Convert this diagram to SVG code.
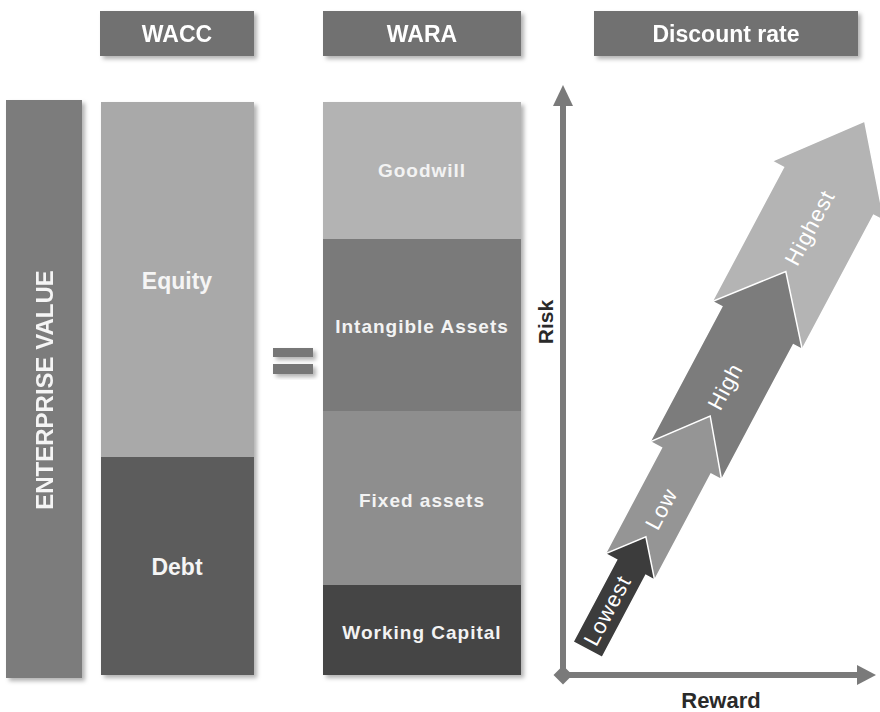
<svg xmlns="http://www.w3.org/2000/svg" width="880" height="712" viewBox="0 0 880 712">
  <defs>
    <filter id="sh" x="-10%" y="-10%" width="130%" height="130%">
      <feDropShadow dx="3" dy="3" stdDeviation="2" flood-color="#000" flood-opacity="0.3"/>
    </filter>
    <style>
      .hdr { fill: #717171; }
      .hdrt { font-family: "Liberation Sans", Arial, sans-serif; font-weight: bold; font-size: 23px; fill: #ffffff; text-anchor: middle; }
      .big { font-family: "Liberation Sans", Arial, sans-serif; font-weight: bold; font-size: 23px; fill: #f5f5f5; text-anchor: middle; }
      .wara { font-family: "Liberation Sans", Arial, sans-serif; font-weight: bold; font-size: 19px; letter-spacing: 1px; fill: #f3f3f3; text-anchor: middle; }
      .arrt { font-family: "Liberation Sans", Arial, sans-serif; font-size: 22px; letter-spacing: 1px; fill: #ffffff; text-anchor: middle; }
      .axl { font-family: "Liberation Sans", Arial, sans-serif; font-weight: bold; font-size: 22px; fill: #2a2a2a; text-anchor: middle; }
      .arr { stroke: #ffffff; stroke-width: 1.5; stroke-linejoin: miter; }
      .axis { stroke: #7a7a7a; stroke-width: 6; fill: none; }
    </style>
  </defs>
  <rect width="880" height="712" fill="#ffffff"/>

  <g id="hdr-wacc" filter="url(#sh)">
    <rect class="hdr" x="100" y="11" width="154" height="45"/>
    <text class="hdrt" x="177" y="42">WACC</text>
  </g>
  <g id="hdr-wara" filter="url(#sh)">
    <rect class="hdr" x="323" y="11" width="198" height="45"/>
    <text class="hdrt" x="422" y="42">WARA</text>
  </g>
  <g id="hdr-discount" filter="url(#sh)">
    <rect class="hdr" x="594" y="11" width="264" height="45"/>
    <text class="hdrt" x="726" y="42">Discount rate</text>
  </g>

  <g id="enterprise-value" filter="url(#sh)">
    <rect x="6" y="100" width="76" height="578" fill="#7b7b7b"/>
    <text class="big" font-size="24" transform="translate(53,390) rotate(-90)" style="font-size:24px">ENTERPRISE VALUE</text>
  </g>

  <g id="wacc-stack" filter="url(#sh)">
    <rect x="101" y="102" width="153" height="355" fill="#a9a9a9"/>
    <rect x="101" y="457" width="153" height="218" fill="#5c5c5c"/>
  </g>
  <g id="equity"><text class="big" x="177" y="289">Equity</text></g>
  <g id="debt"><text class="big" x="177" y="575">Debt</text></g>

  <g id="equals" filter="url(#sh)">
    <rect x="273" y="348" width="40" height="9" fill="#777777"/>
    <rect x="273" y="364" width="40" height="10" fill="#777777"/>
  </g>

  <g id="wara-stack" filter="url(#sh)">
    <rect x="323" y="102" width="198" height="137" fill="#b3b3b3"/>
    <rect x="323" y="239" width="198" height="172" fill="#7a7a7a"/>
    <rect x="323" y="411" width="198" height="174" fill="#8e8e8e"/>
    <rect x="323" y="585" width="198" height="90" fill="#444444"/>
  </g>
  <g id="goodwill"><text class="wara" x="422" y="177">Goodwill</text></g>
  <g id="intangible"><text class="wara" x="422" y="333">Intangible Assets</text></g>
  <g id="fixed"><text class="wara" x="422" y="507">Fixed assets</text></g>
  <g id="working"><text class="wara" x="422" y="639">Working Capital</text></g>

  <g id="connectors">
    <line class="axis" x1="563" y1="675" x2="563" y2="104"/>
    <polygon points="563,85 573,106 553,106" fill="#7a7a7a"/>
    <line class="axis" x1="563" y1="675" x2="858" y2="675"/>
    <polygon points="876,675 857,665 857,685" fill="#7a7a7a"/>
    <polygon points="563,665.5 572.5,675 563,684.5 553.5,675" fill="#7a7a7a"/>
  </g>
  <g id="risk-label"><text class="axl" style="font-size:21px" transform="translate(553,322) rotate(-90)">Risk</text></g>
  <g id="reward-label"><text class="axl" x="721" y="708">Reward</text></g>

  <g transform="translate(573,642) rotate(-62)">
    <g id="arrow-highest">
      <polygon class="arr" fill="#b4b4b4" points="366,-37 518,-37 518,-50 597,13 518,77 518,65 366,65"/>
      <text class="arrt" x="477" y="22">Highest</text>
    </g>
    <g id="arrow-high">
      <polygon class="arr" fill="#7c7c7c" points="213,-26 366,-26 366,-37 427,14 366,65 366,55 213,55"/>
      <text class="arrt" x="297" y="22">High</text>
    </g>
    <g id="arrow-low">
      <polygon class="arr" fill="#959595" points="93,-13 213,-13 213,-26 264,15 213,55 213,43 93,43"/>
      <text class="arrt" x="159" y="23">Low</text>
    </g>
    <g id="arrow-lowest">
      <polygon class="arr" fill="#3c3c3c" points="0,0 93,0 93,-13 127,15 93,43 93,33 0,33"/>
      <text class="arrt" x="44" y="23">Lowest</text>
    </g>
  </g>
</svg>
